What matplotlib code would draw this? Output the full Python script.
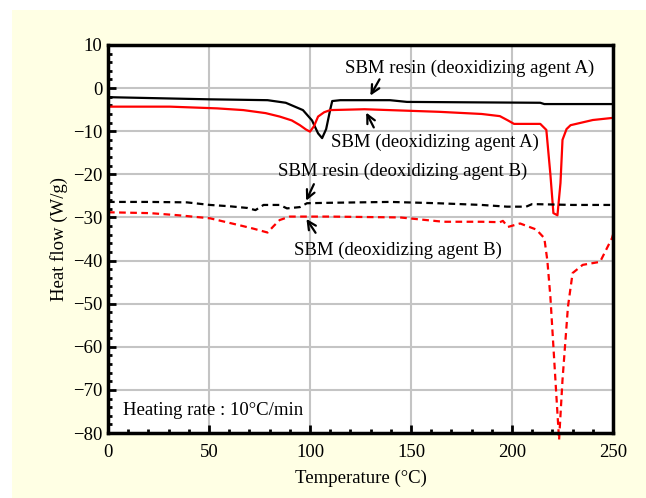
import numpy as np
import matplotlib
matplotlib.use("Agg")
import matplotlib.pyplot as plt
from matplotlib.patches import Rectangle
from matplotlib.ticker import MultipleLocator

plt.rcParams["font.family"] = ["Liberation Serif", "DejaVu Serif"]

# -----------------------------
# DSC curves
# -----------------------------

# SBM resin (deoxidizing agent A) - black solid
resin_a_t = [0, 10, 30, 50, 65, 79, 88, 96.5, 101, 104, 106, 108, 110, 111, 115,
             130, 139.6, 148, 180, 214, 216, 250]
resin_a_q = [-2.1, -2.2, -2.4, -2.6, -2.7, -2.8, -3.4, -5.1, -7.5, -10.5, -11.6, -9.5,
             -5.0, -3.0, -2.8, -2.8, -2.8, -3.2, -3.3, -3.4, -3.7, -3.7]

# SBM (deoxidizing agent A) - red solid
sbm_a_t = [0, 15, 30.7, 54, 67, 78, 85, 91, 95, 98, 100, 102, 104, 107, 110, 127,
           164, 185, 194, 198, 201, 214, 217, 219, 220.5, 222.5, 224, 225, 227, 229,
           240, 250]
sbm_a_q = [-4.3, -4.3, -4.3, -4.7, -5.1, -5.8, -6.6, -7.5, -8.6, -9.6, -10.1, -8.8,
           -6.6, -5.6, -5.1, -4.9, -5.5, -6.0, -6.5, -7.5, -8.3, -8.3, -9.7, -20.0,
           -29.0, -29.5, -22.0, -12.0, -9.5, -8.6, -7.4, -6.9]

# SBM resin (deoxidizing agent B) - black dashed
resin_b_t = [0, 20, 39, 50.5, 60, 69, 73, 77, 85, 88.6, 95, 98.5, 110, 139.6, 163,
             185, 197.5, 207, 210, 230, 250]
resin_b_q = [-26.4, -26.4, -26.5, -27.1, -27.4, -27.8, -28.3, -27.1, -27.1, -27.9,
             -27.6, -26.7, -26.6, -26.4, -26.7, -27.1, -27.5, -27.5, -26.9, -27.1,
             -27.1]

# SBM (deoxidizing agent B) - red dashed
sbm_b_t = [0, 20.8, 35, 50.5, 65, 72, 79, 82, 85, 90, 110, 144.6, 166, 185, 194,
           195.5, 198, 204, 212, 216, 217.5, 219, 220.5, 222, 223.3, 225, 227.7,
           230, 235, 243.6, 249.5, 250]
sbm_b_q = [-28.8, -29.0, -29.5, -30.2, -31.8, -32.6, -33.5, -32.0, -30.6, -29.8,
           -29.8, -30.0, -31.0, -31.0, -31.1, -30.8, -32.2, -31.4, -32.8, -34.8,
           -40.0, -48.4, -60.0, -71.6, -81.6, -67.7, -50.7, -42.9, -41.0, -40.3,
           -34.8, -34.0]

# annotation labels: text, text position, arrow tail, arrow head
labels = ["SBM resin (deoxidizing agent A)", "SBM (deoxidizing agent A)",
          "SBM resin (deoxidizing agent B)", "SBM (deoxidizing agent B)"]
label_xy = [(179, 4.7), (162, -12.5), (146, -19.2), (143.6, -37.6)]
arrow_from = [(135.1, 2.6), (132.2, -9.7), (102.5, -21.7), (103.5, -34.1)]
arrow_to = [(129.2, -2.3), (127.2, -5.1), (97.5, -26.7), (97.5, -29.8)]

# -----------------------------
# Plot
# -----------------------------

fs = 13.5

fig = plt.figure(figsize=(6.46, 4.98), dpi=100)
fig.patches.append(Rectangle((12 / 646, 0.0), 1 - 12 / 646, 1 - 10 / 498,
                             transform=fig.transFigure, facecolor="#FFFFE4",
                             edgecolor="none", zorder=-10))
ax = fig.add_axes([108 / 646, 65 / 498, 505 / 646, 388 / 498])
ax.set_facecolor("white")

ax.plot(resin_a_t, resin_a_q, color="black", lw=1.6)
ax.plot(sbm_a_t, sbm_a_q, color="red", lw=1.6)
ax.plot(resin_b_t, resin_b_q, color="black", lw=1.6, dashes=(3, 2))
ax.plot(sbm_b_t, sbm_b_q, color="red", lw=1.6, dashes=(3, 2), clip_on=False)

for txt, xy, p0, p1 in zip(labels, label_xy, arrow_from, arrow_to):
    ax.text(xy[0], xy[1], txt, ha="center", va="center", fontsize=fs)
    ax.annotate("", xy=p1, xytext=p0,
                arrowprops=dict(arrowstyle="->", color="black", lw=1.6,
                                mutation_scale=15))

ax.text(7.5, -74.7, "Heating rate : 10°C/min", ha="left", va="center",
        fontsize=fs)

ax.set_xlim(0, 250)
ax.set_ylim(-80, 10)
ax.xaxis.set_major_locator(MultipleLocator(50))
ax.xaxis.set_minor_locator(MultipleLocator(10))
ax.yaxis.set_major_locator(MultipleLocator(10))
ax.yaxis.set_minor_locator(MultipleLocator(2))

ax.grid(True, which="major", color="#c4c4c4", lw=1.5)
ax.set_axisbelow(True)
for s in ax.spines.values():
    s.set_linewidth(2.5)
ax.tick_params(which="both", direction="in", top=False, right=False,
               labelsize=fs)
ax.tick_params(axis="x", pad=8)
ax.tick_params(axis="y", pad=4)
ax.tick_params(which="major", length=6, width=2)
ax.tick_params(which="minor", length=3, width=2)

ax.set_xlabel("Temperature (°C)", fontsize=fs, labelpad=6)
ax.set_ylabel("Heat flow (W/g)", fontsize=fs, labelpad=4)

fig.savefig("out.png", dpi=100)
plt.close(fig)
